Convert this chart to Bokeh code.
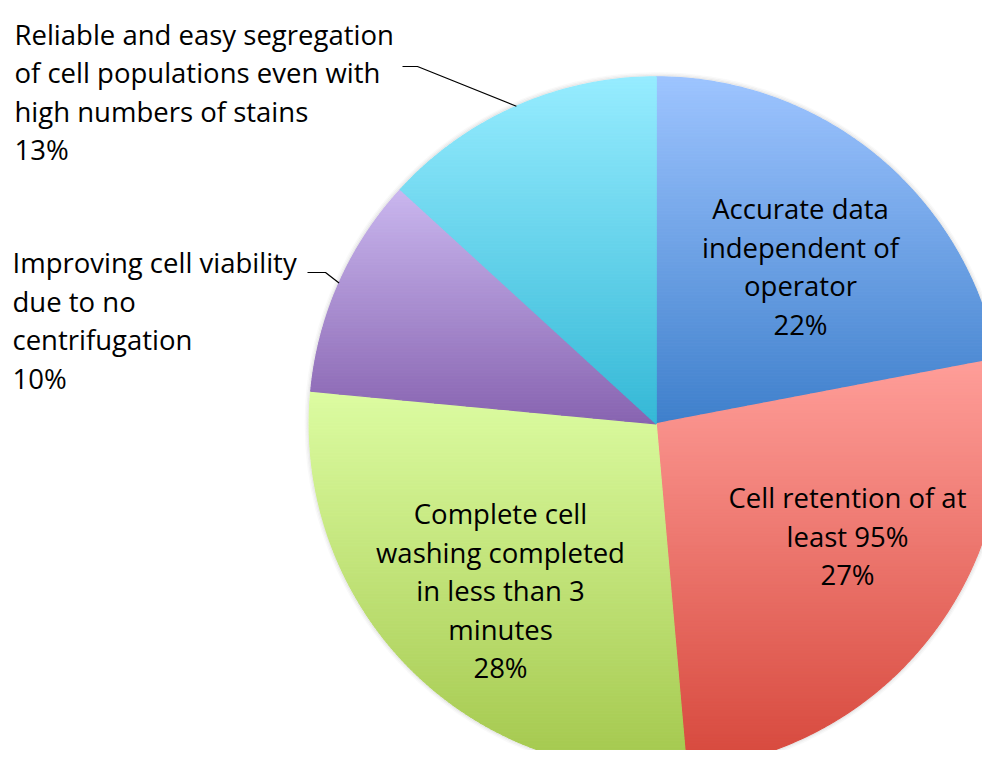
import numpy as np
from bokeh.plotting import figure
from bokeh.models import Range1d
from bokeh.core.properties import value
from bokeh.embed import file_html
from bokeh.resources import INLINE

# ---------------- data ----------------
categories = [
    "Accurate data independent of operator",
    "Cell retention of at least 95%",
    "Complete cell washing completed in less than 3 minutes",
    "Improving cell viability due to no centrifugation",
    "Reliable and easy segregation of cell populations even with high numbers of stains",
]
# slice sizes as drawn in the picture (percent of the circle)
shares = [22.0, 26.6, 27.9, 10.3, 13.2]
# percentages printed in the labels
pct_labels = ["22%", "27%", "28%", "10%", "13%"]
label_lines = [
    ["Accurate data", "independent of", "operator"],
    ["Cell retention of at", "least 95%"],
    ["Complete cell", "washing completed", "in less than 3", "minutes"],
    ["Improving cell viability", "due to no", "centrifugation"],
    ["Reliable and easy segregation", "of cell populations even with", "high numbers of stains"],
]
top_colors = ["#9DC4FF", "#FF9E99", "#DCFCA1", "#C9B6EE", "#96ECFF"]
bottom_colors = ["#3E7FCB", "#D6473B", "#A3C74C", "#8763B0", "#34B8D6"]

# ---------------- layout ----------------
W, H = 982, 750


def px(x):
    return x


def py(y):
    return H - y


CX, CY, R = px(655.7), py(423.3), 347.0
FONT = "Open Sans"
FS = "27.5px"
LINE_H = 38.6

# label placement (image px): inside labels centred, outside labels left aligned
label_pos = [
    dict(x=800, y=208, align="center"),
    dict(x=847, y=497, align="center"),
    dict(x=500, y=513, align="center"),
    dict(x=12, y=262, align="left"),
    dict(x=14, y=33.5, align="left"),
]
# leader lines for outside labels: (start x, y, elbow x) in image px
leaders = {3: (307, 272, 325), 4: (402, 66, 417)}


def hex2rgb(h):
    h = h.lstrip("#")
    return np.array([int(h[i:i + 2], 16) for i in (0, 2, 4)], dtype=float)


def rgb2hex(c):
    c = np.clip(np.round(c), 0, 255).astype(int)
    return "#%02x%02x%02x" % tuple(c)


def clip_poly(pts, yv, keep_above):
    out = []
    n = len(pts)
    for i in range(n):
        a = pts[i]
        b = pts[(i + 1) % n]
        ina = a[1] >= yv if keep_above else a[1] <= yv
        inb = b[1] >= yv if keep_above else b[1] <= yv
        if ina:
            out.append(a)
        if ina != inb:
            t = (yv - a[1]) / (b[1] - a[1])
            out.append((a[0] + t * (b[0] - a[0]), yv))
    return out


p = figure(width=W, height=H, x_range=Range1d(0, W), y_range=Range1d(0, H),
           output_backend="svg", toolbar_location=None, min_border=0,
           x_axis_location=None, y_axis_location=None)
p.grid.visible = False
p.outline_line_color = None
p.background_fill_color = "white"

# soft shadow rim
for k, a in [(3.5, 0.05), (2.0, 0.09), (0.8, 0.12)]:
    p.circle([CX], [CY], radius=R + k, fill_color=None, line_color="#808080",
             line_alpha=a, line_width=2)

cum = np.concatenate([[0.0], np.cumsum(shares)])
total = cum[-1]
band_xs, band_ys, band_cols = [], [], []
mid_angles = []
for i in range(len(shares)):
    t0 = 2 * np.pi * cum[i] / total
    t1 = 2 * np.pi * cum[i + 1] / total
    mid_angles.append((t0 + t1) / 2)
    n = max(4, int(np.degrees(t1 - t0)))
    th = np.linspace(t0, t1, n)
    poly = [(CX, CY)] + [(CX + R * np.sin(t), CY + R * np.cos(t)) for t in th]
    ys = [q[1] for q in poly]
    ytop, ybot = max(ys), min(ys)
    c_top, c_bot = hex2rgb(top_colors[i]), hex2rgb(bottom_colors[i])
    step = 3.0
    yb = ybot
    while yb < ytop:
        ya = min(yb + step, ytop)
        sub = clip_poly(poly, yb, True)
        sub = clip_poly(sub, ya, False) if sub else []
        if len(sub) >= 3:
            f = ((yb + ya) / 2 - ybot) / (ytop - ybot)
            col = rgb2hex(c_bot + (c_top - c_bot) * f)
            band_xs.append([q[0] for q in sub])
            band_ys.append([q[1] for q in sub])
            band_cols.append(col)
        yb = ya

p.patches(band_xs, band_ys, fill_color=band_cols, line_color=band_cols, line_width=1.2)

# leader lines
for i, (sx, sy, ex) in leaders.items():
    m = mid_angles[i]
    xe = CX + R * np.sin(m)
    ye = CY + R * np.cos(m)
    p.line([px(sx), px(ex), xe], [py(sy), py(sy), ye], line_color="black", line_width=1.2)

# labels
tx, ty, tt, ta = [], [], [], []
for i in range(len(shares)):
    lines = label_lines[i] + [pct_labels[i]]
    pos = label_pos[i]
    for j, s in enumerate(lines):
        tx.append(px(pos["x"]))
        ty.append(py(pos["y"] + j * LINE_H))
        tt.append(s)
        ta.append(pos["align"])

for al in ("center", "left"):
    idx = [k for k in range(len(tt)) if ta[k] == al]
    p.text([tx[k] for k in idx], [ty[k] for k in idx], text=[tt[k] for k in idx],
           text_font=value(FONT), text_font_size=FS, text_color="#000000",
           text_align=al, text_baseline="middle")

open("out.html", "w").write(file_html(p, INLINE))
